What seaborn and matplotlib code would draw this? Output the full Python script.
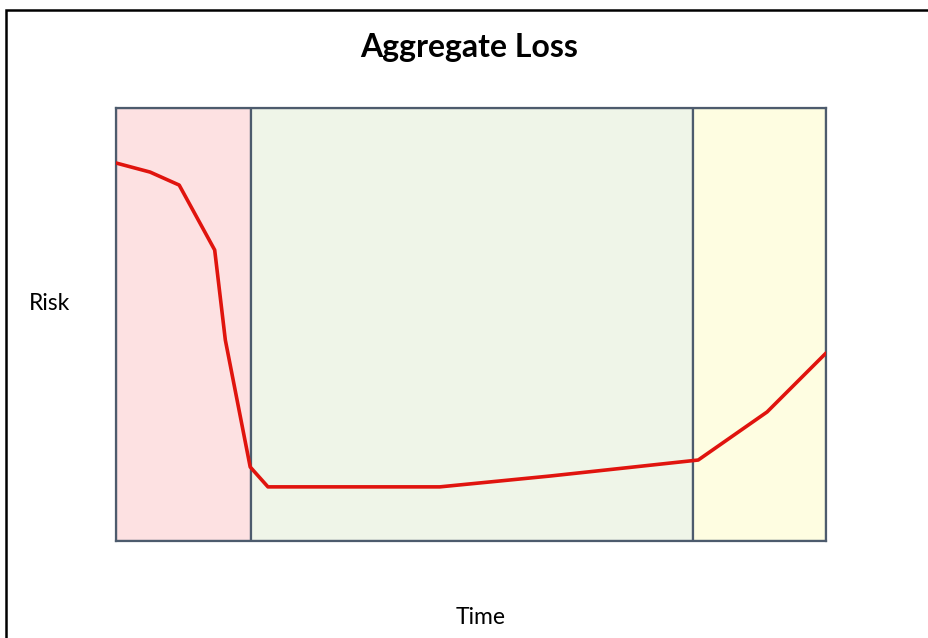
import matplotlib
matplotlib.use('Agg')
import matplotlib.pyplot as plt
import seaborn as sns
import pandas as pd
from matplotlib.patches import Rectangle

# data (time 0-100, risk 0-100)
time = [0, 4.8, 8.9, 13.9, 15.4, 18.9, 21.4, 45.6, 61.1, 82.0, 91.7, 100]
risk = [87.3, 85.2, 82.2, 67.2, 46.4, 17.1, 12.5, 12.5, 15.0, 18.7, 29.8, 43.4]
zone_edges = [0, 19.0, 81.3, 100]
zone_colors = ['#fde1e2', '#eff5e8', '#fefde1']

df = pd.DataFrame({'Time': time, 'Risk': risk})

sns.set_style('white')
plt.rcParams['font.family'] = ['Lato', 'DejaVu Sans']
plt.rcParams['text.color'] = 'black'

fig = plt.figure(figsize=(9.29, 6.38), dpi=100)
ax = fig.add_axes([116 / 929, 97 / 638, 710 / 929, 433 / 638])

for i in range(len(zone_colors)):
    ax.axvspan(zone_edges[i], zone_edges[i + 1], facecolor=zone_colors[i],
               edgecolor='#4d5b6d', linewidth=1.6, zorder=0)

sns.lineplot(data=df, x='Time', y='Risk', color='#e0140e', linewidth=2.6, ax=ax, zorder=3)

ax.set_xlim(0, 100)
ax.set_ylim(0, 100)
ax.set_xticks([])
ax.set_yticks([])
ax.set_xlabel('')
ax.set_ylabel('')
for s in ax.spines.values():
    s.set_color('#4d5b6d')
    s.set_linewidth(1.6)

fig.text(469.5 / 929, 1 - 48 / 638, 'Aggregate Loss', ha='center', va='center',
         fontsize=23, fontweight='bold')
fig.text(50 / 929, 1 - 303 / 638, 'Risk', ha='center', va='center', fontsize=16.5)
fig.text(481 / 929, 1 - 617 / 638, 'Time', ha='center', va='center', fontsize=16.5)

# outer frame
fig.patches.append(Rectangle((6.5 / 929, -0.5), 2, 1.5 - 9.5 / 638, transform=fig.transFigure,
                             fill=False, edgecolor='black', linewidth=1.8, clip_on=False))

fig.savefig('out.png', dpi=100)
